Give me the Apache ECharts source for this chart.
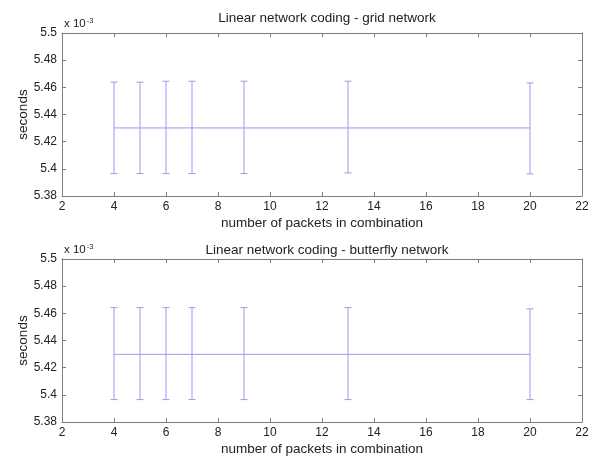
<!DOCTYPE html>
<html>
<head>
<meta charset="utf-8">
<script src="https://cdn.jsdelivr.net/npm/echarts@6/dist/echarts.min.js"></script>
<style>
  html, body { margin: 0; padding: 0; background: #fff; }
  #chart { width: 594px; height: 458px; }
</style>
</head>
<body>
<div id="chart"></div>
<script>
// Packets per combination
const packets = [4, 5, 6, 7, 9, 13, 20];

// Grid network timing (units of 1e-3 s)
const gridMean  = [5.4301, 5.4301, 5.4301, 5.4301, 5.4301, 5.4301, 5.4301];
const gridUpper = [5.4638, 5.4638, 5.4645, 5.4645, 5.4645, 5.4645, 5.4632];
const gridLower = [5.3965, 5.3965, 5.3965, 5.3965, 5.3965, 5.3970, 5.3963];

// Butterfly network timing (units of 1e-3 s)
const bflyMean  = [5.4298, 5.4298, 5.4298, 5.4298, 5.4298, 5.4298, 5.4298];
const bflyUpper = [5.4642, 5.4642, 5.4642, 5.4642, 5.4642, 5.4642, 5.4633];
const bflyLower = [5.3965, 5.3965, 5.3965, 5.3965, 5.3965, 5.3965, 5.3965];

// Axis ticks
const xTicks = [2, 4, 6, 8, 10, 12, 14, 16, 18, 20, 22];
const yTicks = [5.38, 5.40, 5.42, 5.44, 5.46, 5.48, 5.50];

const titles = ['Linear network coding - grid network', 'Linear network coding - butterfly network'];
const xName = 'number of packets in combination';
const yName = 'seconds';

const BAR = '#9a9aee';
const AXIS = '#7f7f7f';
const FONT = 'Liberation Sans, Arial, sans-serif';
const TXT = '#222';

const chart = echarts.init(document.getElementById('chart'));

const grids = [
  { left: 62, right: 12, top: 33, height: 163 },
  { left: 62, right: 12, top: 259, height: 163 }
];

function fmtY(v) { return String(parseFloat(v.toFixed(2))); }

const xAxes = [], yAxes = [], series = [];
const sets = [
  { mean: gridMean, upper: gridUpper, lower: gridLower },
  { mean: bflyMean, upper: bflyUpper, lower: bflyLower }
];

sets.forEach((s, g) => {
  const xMin = xTicks[0], xMax = xTicks[xTicks.length - 1];
  const yMin = yTicks[0], yMax = yTicks[yTicks.length - 1];
  const common = {
    gridIndex: g, type: 'value', min: xMin, max: xMax, interval: 2,
    splitLine: { show: false },
    axisLine: { show: true, onZero: false, lineStyle: { color: AXIS, width: 1 } },
    axisTick: { show: true, inside: true, length: 4, lineStyle: { color: AXIS } }
  };
  xAxes.push(Object.assign({}, common, {
    position: 'bottom',
    name: xName, nameLocation: 'middle', nameGap: 20,
    nameTextStyle: { fontFamily: FONT, fontSize: 13.5, color: TXT },
    axisLabel: { fontFamily: FONT, fontSize: 12, color: TXT, margin: 5 }
  }));
  xAxes.push(Object.assign({}, common, { position: 'top', axisLabel: { show: false } }));

  const ycommon = {
    gridIndex: g, type: 'value', min: yMin, max: yMax, interval: 0.02,
    splitLine: { show: false },
    axisLine: { show: true, onZero: false, lineStyle: { color: AXIS, width: 1 } },
    axisTick: { show: true, inside: true, length: 4, lineStyle: { color: AXIS } }
  };
  yAxes.push(Object.assign({}, ycommon, {
    position: 'left',
    name: yName, nameLocation: 'middle', nameGap: 32, nameRotate: 90,
    nameMoveOverlap: false,
    nameTextStyle: { fontFamily: FONT, fontSize: 13.5, color: TXT },
    axisLabel: { fontFamily: FONT, fontSize: 12, color: TXT, margin: 5, formatter: fmtY }
  }));
  yAxes.push(Object.assign({}, ycommon, { position: 'right', axisLabel: { show: false } }));

  const xi = g * 2, yi = g * 2;
  // mean line through the points
  series.push({
    type: 'line', xAxisIndex: xi, yAxisIndex: yi,
    data: packets.map((p, i) => [p, s.mean[i]]),
    showSymbol: false, symbol: 'none',
    lineStyle: { color: BAR, width: 1 },
    silent: true, animation: false
  });
  // vertical error bars with caps
  series.push({
    type: 'custom', xAxisIndex: xi, yAxisIndex: yi,
    data: packets.map((p, i) => [p, s.lower[i], s.upper[i]]),
    renderItem: function (params, api) {
      const x = api.value(0);
      const lo = api.coord([x, api.value(1)]);
      const hi = api.coord([x, api.value(2)]);
      const w = 3.5;
      const st = { stroke: BAR, lineWidth: 1, fill: null };
      return {
        type: 'group',
        children: [
          { type: 'line', shape: { x1: lo[0], y1: lo[1], x2: hi[0], y2: hi[1] }, style: st },
          { type: 'line', shape: { x1: lo[0] - w, y1: lo[1], x2: lo[0] + w, y2: lo[1] }, style: st },
          { type: 'line', shape: { x1: hi[0] - w, y1: hi[1], x2: hi[0] + w, y2: hi[1] }, style: st }
        ]
      };
    },
    silent: true, animation: false
  });
});

const graphic = [];
grids.forEach((gr) => {
  // exponent marker above each y axis
  graphic.push({
    type: 'text', left: 64, top: gr.top - 16,
    style: {
      text: '{b|x 10}{s|-3}',
      rich: {
        b: { fontFamily: FONT, fontSize: 11.5, fill: TXT },
        s: { fontFamily: FONT, fontSize: 7.5, fill: TXT, verticalAlign: 'top', padding: [0, 0, 6, 1] }
      }
    }
  });
});

chart.setOption({
  backgroundColor: '#ffffff',
  animation: false,
  title: [
    { text: titles[0], left: 322, top: 6, textAlign: 'center',
      textStyle: { fontFamily: FONT, fontSize: 13.5, fontWeight: 'normal', color: TXT } },
    { text: titles[1], left: 322, top: 238, textAlign: 'center',
      textStyle: { fontFamily: FONT, fontSize: 13.5, fontWeight: 'normal', color: TXT } }
  ],
  grid: grids,
  xAxis: xAxes,
  yAxis: yAxes,
  series: series,
  graphic: graphic
});
</script>
</body>
</html>
